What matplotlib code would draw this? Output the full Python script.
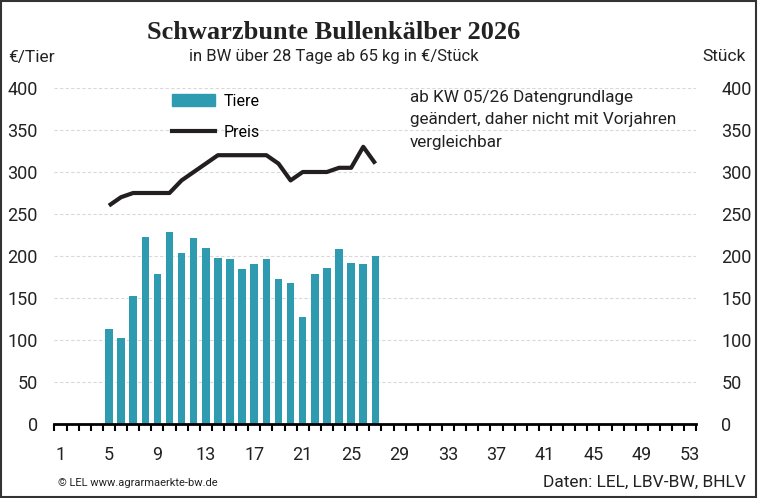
import matplotlib.pyplot as plt
from matplotlib.lines import Line2D
from matplotlib.patches import Patch, Rectangle

# Daten
weeks = list(range(5, 28))
tiere = [113, 102, 152, 223, 179, 229, 204, 221, 209, 198, 196, 185,
         190, 196, 173, 168, 127, 178, 186, 208, 192, 191, 200]
preis = [260, 270, 275, 275, 275, 275, 290, 300, 310, 320, 320, 320,
         320, 320, 310, 290, 300, 300, 300, 305, 305, 330, 310]
x_labels = list(range(1, 54, 4))
y_ticks = list(range(0, 401, 50))

teal = '#2f9bb0'
dark = '#231f20'

plt.rcParams['font.family'] = ['Roboto', 'DejaVu Sans']

fig = plt.figure(figsize=(7.58, 4.98), dpi=100)
ax = fig.add_axes([0.0718, 0.1486, 0.8468, 0.6747])

ax.bar(weeks, tiere, width=0.62, color=teal, zorder=2)
ax.plot(weeks, preis, color=dark, lw=3, solid_capstyle='butt', zorder=3)

ax.set_xlim(0.5, 53.5)
ax.set_ylim(0, 400)
ax.set_yticks(y_ticks)
ax.set_xticks(x_labels)
ax.set_xticks([w + 0.5 for w in range(0, 54)], minor=True)
ax.tick_params(axis='x', which='major', length=0, labelsize=13, pad=16, colors='#222222')
ax.tick_params(axis='x', which='minor', length=5, width=1.5, color='black', direction='out')
ax.tick_params(axis='y', length=0, labelsize=13, pad=12, colors='#222222')
ax.grid(axis='y', color='#d9d9d9', lw=0.8, ls=(0, (3, 2)), zorder=0)
for s in ['top', 'left', 'right']:
    ax.spines[s].set_visible(False)
ax.spines['bottom'].set_linewidth(2)
ax.spines['bottom'].set_zorder(4)

ax2 = ax.twinx()
ax2.set_ylim(0, 400)
ax2.set_yticks(y_ticks)
ax2.tick_params(axis='y', length=0, labelsize=13, pad=18, colors='#222222')
for s in ax2.spines.values():
    s.set_visible(False)

handles = [Patch(color=teal), Line2D([0], [0], color=dark, lw=3)]
fig.legend(handles, ['Tiere', 'Preis'], loc='upper left',
           bbox_to_anchor=(0.227, 0.812), frameon=False,
           handlelength=2.7, handleheight=0.8, handletextpad=0.5,
           labelspacing=1.0, borderpad=0, borderaxespad=0,
           prop={'family': 'Roboto', 'size': 11.5})

fig.text(0.44, 0.935, 'Schwarzbunte Bullenkälber 2026', ha='center', va='center',
         fontsize=19, fontweight='bold', family='Liberation Serif', color='#222222')
fig.text(0.44, 0.886, 'in BW über 28 Tage ab 65 kg in €/Stück', ha='center',
         va='center', fontsize=12, color='#222222')
fig.text(0.011, 0.884, '€/Tier', ha='left', va='center', fontsize=12.5, color='#222222')
fig.text(0.984, 0.886, 'Stück', ha='right', va='center', fontsize=12.5, color='#222222')
fig.text(0.541, 0.82, 'ab KW 05/26 Datengrundlage\ngeändert, daher nicht mit Vorjahren\nvergleichbar',
         ha='left', va='top', fontsize=12.3, family='Roboto', linespacing=1.65,
         color='#222222')
fig.text(0.077, 0.03, '© LEL www.agrarmaerkte-bw.de', ha='left', va='center',
         fontsize=8, color='#222222')
fig.text(0.984, 0.032, 'Daten: LEL, LBV-BW, BHLV', ha='right', va='center',
         fontsize=12.5, color='#222222')

fig.patches.append(Rectangle((0.001, 0.002), 0.997, 0.995, transform=fig.transFigure,
                             fill=False, edgecolor='#333333', lw=1.5))

fig.savefig('out.png', dpi=100)
